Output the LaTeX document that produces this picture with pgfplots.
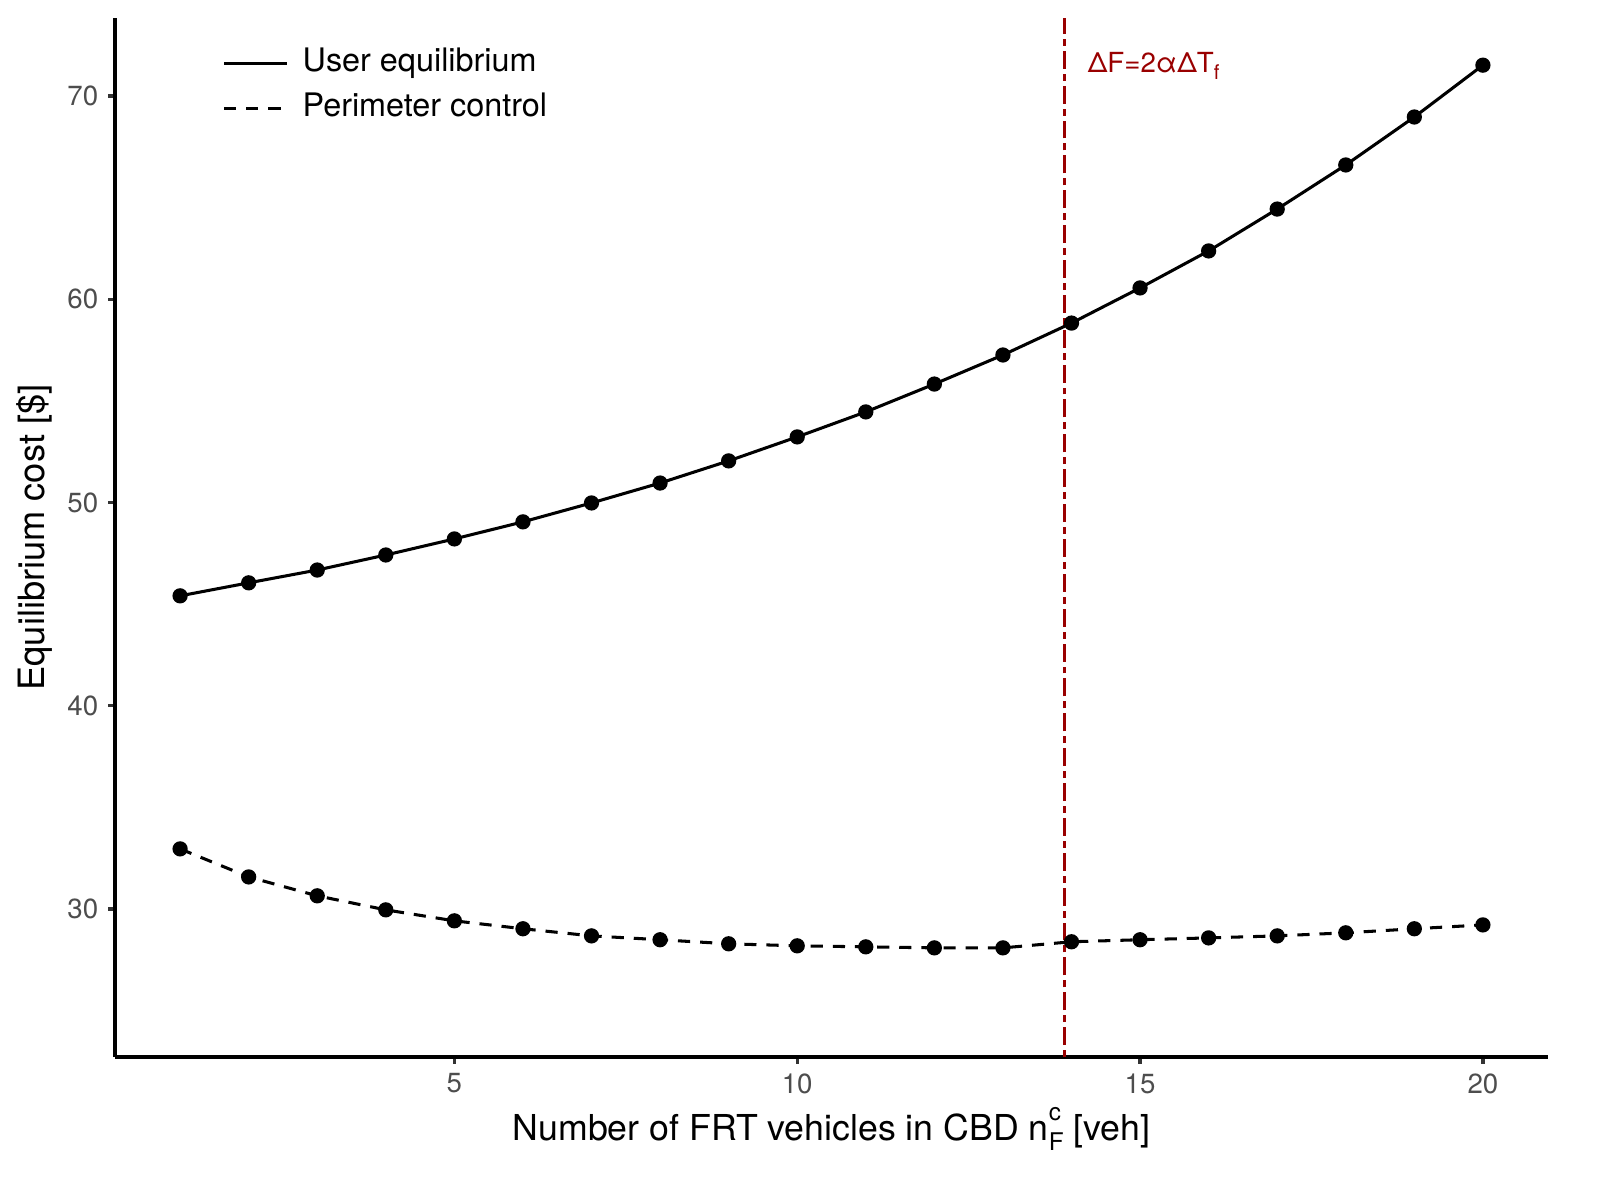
\documentclass[border=0pt]{standalone}
\usepackage{pgfplots}
\pgfplotsset{compat=1.18}
\usepackage{fontspec}
\setmainfont{TeX Gyre Heros}
\definecolor{ticklab}{HTML}{4D4D4D}
\definecolor{tickcol}{HTML}{333333}
\definecolor{vred}{RGB}{153,0,0}
\begin{document}
\begin{tikzpicture}
\begin{axis}[
  scale only axis,
  width=182.0mm, height=131.95mm,
  xmin=0.05, xmax=20.95,
  ymin=22.72, ymax=73.84,
  axis x line=bottom, axis y line=left,
  axis line style={-, line width=1.2pt, black},
  tick align=outside,
  major tick length=2.5pt,
  tick style={line width=1.2pt, tickcol},
  xtick={5,10,15,20},
  ytick={30,40,50,60,70},
  /pgf/number format/assume math mode=true,
  ticklabel style={font=\fontsize{10}{12}\selectfont, text=ticklab},
  xlabel={Number of FRT vehicles in CBD n\makebox[0pt][l]{\raisebox{1.05ex}{\fontsize{8.8}{9}\selectfont c}}\raisebox{-0.55ex}{\fontsize{8.8}{9}\selectfont F} [veh]},
  ylabel={Equilibrium cost [\$]},
  every axis x label/.style={at={(axis description cs:0.5,-0.0799)}, anchor=base, font=\fontsize{12.9}{14}\selectfont},
  every axis y label/.style={at={(axis description cs:-0.0558,0.5)}, rotate=90, anchor=center, font=\fontsize{13.1}{14}\selectfont},
  legend style={at={(axis description cs:0.0747,0.9716)}, anchor=north west, draw=none, fill=none, inner sep=0pt,
    font=\fontsize{11.7}{13}\selectfont, row sep=5.3pt, column sep=0pt,
    nodes={inner ysep=0pt, inner xsep=1.78mm, text height=8.5pt, text depth=2.5pt}},
  legend cell align=left,
  legend image code/.code={\draw[#1] (-1.78mm,0mm) -- (6.22mm,0mm);},
]
\addplot[black, line width=1.1pt, mark=*, mark size=2.2pt, mark options={solid}] coordinates {
(1,45.41) (2,46.05) (3,46.68) (4,47.42) (5,48.21) (6,49.05) (7,49.98) (8,50.96) (9,52.05) (10,53.23)
(11,54.46) (12,55.83) (13,57.26) (14,58.83) (15,60.56) (16,62.38) (17,64.44) (18,66.61) (19,68.97) (20,71.52)};
\addlegendentry{User equilibrium}
\addplot[black, line width=1.1pt, dash pattern=on 4.4pt off 3.6pt, mark=*, mark size=2.2pt, mark options={solid}] coordinates {
(1,32.96) (2,31.58) (3,30.65) (4,29.96) (5,29.42) (6,29.03) (7,28.68) (8,28.49) (9,28.29) (10,28.19)
(11,28.14) (12,28.09) (13,28.09) (14,28.39) (15,28.49) (16,28.58) (17,28.68) (18,28.83) (19,29.03) (20,29.22)};
\addlegendentry{Perimeter control}
\addplot[vred, line width=1.3pt, dash pattern=on 2.5pt off 1.8pt on 6.5pt off 1.8pt, forget plot] coordinates {(13.9,22.72) (13.9,73.84)};
\node[anchor=west, inner sep=0pt, text=vred, font=\fontsize{10}{11}\selectfont] at (axis cs:14.23,71.5) {ΔF=2αΔT\raisebox{-0.5ex}{\fontsize{7.3}{8}\selectfont f}};
\end{axis}
\pgfresetboundingbox
\path[use as bounding box] ([xshift=-14.6mm,yshift=-18.16mm]current axis.south west) rectangle ++(203.2mm,152.4mm);
\end{tikzpicture}
\end{document}
